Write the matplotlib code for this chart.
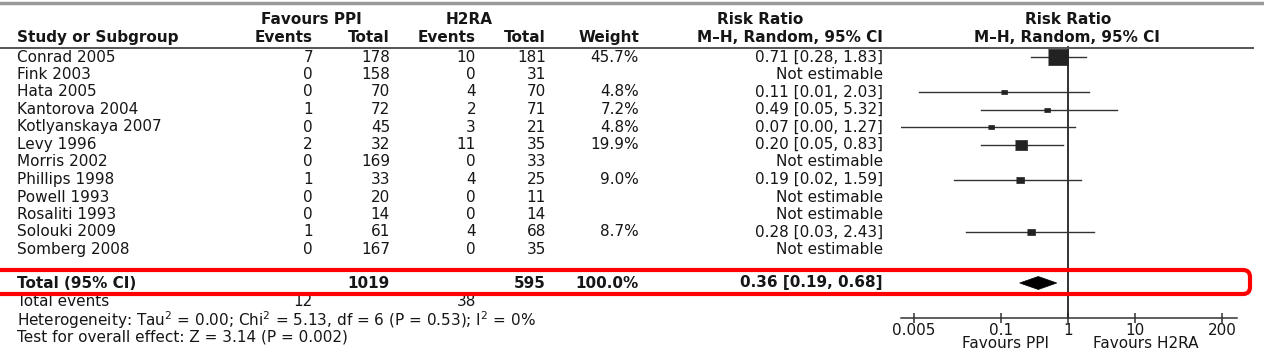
import numpy as np
import matplotlib
matplotlib.use('Agg')
import matplotlib.pyplot as plt
from matplotlib.patches import FancyBboxPatch, Polygon

# data
studies = ['Conrad 2005', 'Fink 2003', 'Hata 2005', 'Kantorova 2004', 'Kotlyanskaya 2007',
           'Levy 1996', 'Morris 2002', 'Phillips 1998', 'Powell 1993', 'Rosaliti 1993',
           'Solouki 2009', 'Somberg 2008']
ppi_events = [7, 0, 0, 1, 0, 2, 0, 1, 0, 0, 1, 0]
ppi_total = [178, 158, 70, 72, 45, 32, 169, 33, 20, 14, 61, 167]
h2ra_events = [10, 0, 4, 2, 3, 11, 0, 4, 0, 0, 4, 0]
h2ra_total = [181, 31, 70, 71, 21, 35, 33, 25, 11, 14, 68, 35]
weight = [45.7, None, 4.8, 7.2, 4.8, 19.9, None, 9.0, None, None, 8.7, None]
rr = [0.71, None, 0.11, 0.49, 0.07, 0.20, None, 0.19, None, None, 0.28, None]
rr_lo = [0.28, None, 0.006, 0.05, 0.003, 0.05, None, 0.02, None, None, 0.03, None]
rr_hi = [1.83, None, 2.03, 5.32, 1.27, 0.83, None, 1.59, None, None, 2.43, None]
total_rr, total_lo, total_hi = 0.36, 0.19, 0.68
xticks = [0.005, 0.1, 1, 10, 200]
het_text = 'Heterogeneity: Tau$^{2}$ = 0.00; Chi$^{2}$ = 5.13, df = 6 (P = 0.53); I$^{2}$ = 0%'
test_text = 'Test for overall effect: Z = 3.14 (P = 0.002)'

txtc = '#161616'
fs = 11

fig = plt.figure(figsize=(12.64, 3.57), dpi=100)

# forest plot axes (log scale, pixel rows on y)
fx0, fx1, one_px, decade = 901, 1237, 1068, 67.0
axf = fig.add_axes([fx0/1264, 0, (fx1-fx0)/1264, 1])
axf.set_xscale('log')
axf.set_xlim(10**((fx0-one_px)/decade), 10**((fx1-one_px)/decade))
axf.set_ylim(357, 0)
axf.patch.set_visible(False)
for s in ['top', 'left', 'right']:
    axf.spines[s].set_visible(False)
axf.spines['bottom'].set_position(('data', 318))
axf.spines['bottom'].set_color('#333333')
axf.spines['bottom'].set_linewidth(1.1)
axf.set_yticks([])
axf.set_xticks(xticks)
axf.set_xticklabels(['0.005', '0.1', '1', '10', '200'])
axf.xaxis.set_minor_locator(matplotlib.ticker.NullLocator())
axf.tick_params(axis='x', direction='inout', length=7, width=1.1, color='#333333',
                labelsize=fs, labelcolor=txtc, pad=0)
axf.plot([1, 1], [47, 318], color='#222222', lw=1.3)

row_y = [57 + 17.5*i for i in range(len(studies))]
for i in range(len(studies)):
    if rr[i] is None:
        continue
    axf.plot([rr_lo[i], rr_hi[i]], [row_y[i], row_y[i]], color='#333333', lw=1.0)
    ms = 1.1 * weight[i]**0.6
    axf.plot(rr[i], row_y[i], marker=[(-1.35, -1), (1.35, -1), (1.35, 1), (-1.35, 1)],
             ms=ms*1.35, color='#222222', mec='#222222', mew=0.5)

ty = 283
axf.add_patch(Polygon([(total_lo, ty), (total_rr, ty - 6.5), (total_hi, ty), (total_rr, ty + 6.5)],
                      closed=True, fc='black', ec='black', lw=0.5))

# table / text axes in pixel coordinates
ax = fig.add_axes([0, 0, 1, 1])
ax.set_xlim(0, 1264)
ax.set_ylim(357, 0)
ax.axis('off')
ax.patch.set_visible(False)

ax.plot([0, 1264], [2.5, 2.5], color='#9a9a9a', lw=2.5)
ax.plot([0, 1253], [47.5, 47.5], color='#555555', lw=1.4)

hb = dict(fontsize=fs, fontweight='bold', color=txtc, va='center')
ax.text(311, 19, 'Favours PPI', ha='center', **hb)
ax.text(469, 19, 'H2RA', ha='center', **hb)
ax.text(760, 19, 'Risk Ratio', ha='center', **hb)
ax.text(1068, 19, 'Risk Ratio', ha='center', **hb)
ax.text(17, 37.5, 'Study or Subgroup', ha='left', **hb)
ax.text(313, 37.5, 'Events', ha='right', **hb)
ax.text(390, 37.5, 'Total', ha='right', **hb)
ax.text(476, 37.5, 'Events', ha='right', **hb)
ax.text(546, 37.5, 'Total', ha='right', **hb)
ax.text(639, 37.5, 'Weight', ha='right', **hb)
ax.text(883, 37.5, 'M\u2013H, Random, 95% CI', ha='right', **hb)
ax.text(1067, 37.5, 'M\u2013H, Random, 95% CI', ha='center', **hb)

nb = dict(fontsize=fs, color=txtc, va='center')
for i, name in enumerate(studies):
    y = row_y[i]
    ax.text(17, y, name, ha='left', **nb)
    ax.text(313, y, str(ppi_events[i]), ha='right', **nb)
    ax.text(390, y, str(ppi_total[i]), ha='right', **nb)
    ax.text(476, y, str(h2ra_events[i]), ha='right', **nb)
    ax.text(546, y, str(h2ra_total[i]), ha='right', **nb)
    if rr[i] is None:
        ax.text(883, y, 'Not estimable', ha='right', **nb)
    else:
        ax.text(639, y, f'{weight[i]:.1f}%', ha='right', **nb)
        ax.text(883, y, f'{rr[i]:.2f} [{rr_lo[i]:.2f}, {rr_hi[i]:.2f}]', ha='right', **nb)

ax.text(17, ty, 'Total (95% CI)', ha='left', **hb)
ax.text(390, ty, str(sum(ppi_total)), ha='right', **hb)
ax.text(546, ty, str(sum(h2ra_total)), ha='right', **hb)
ax.text(639, ty, '100.0%', ha='right', **hb)
ax.text(883, ty, f'{total_rr:.2f} [{total_lo:.2f}, {total_hi:.2f}]', ha='right', **hb)

ax.text(17, 302, 'Total events', ha='left', **nb)
ax.text(313, 302, str(sum(ppi_events)), ha='right', **nb)
ax.text(476, 302, str(sum(h2ra_events)), ha='right', **nb)
ax.text(17, 320, het_text, ha='left', **nb)
ax.text(17, 337, test_text, ha='left', **nb)

ax.text(1006, 344, 'Favours PPI', ha='center', **nb)
ax.text(1146, 344, 'Favours H2RA', ha='center', **nb)

box = FancyBboxPatch((-10, 270), 1260, 24, boxstyle='round,pad=0,rounding_size=7',
                     fc='none', ec='#ff0000', lw=3.0, zorder=10)
ax.add_patch(box)

fig.savefig('out.png', dpi=100)
